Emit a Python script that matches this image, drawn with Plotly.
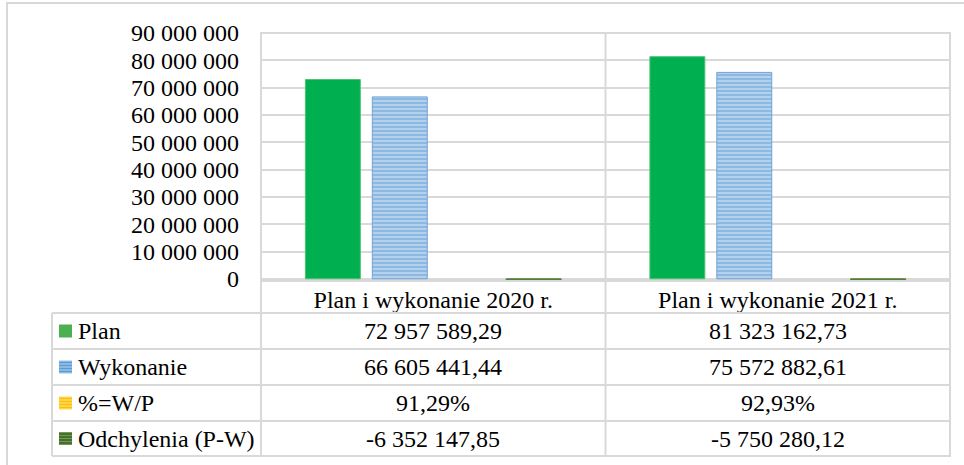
import plotly.graph_objects as go

# ---------------- data ----------------
categories = ["Plan i wykonanie 2020 r.", "Plan i wykonanie 2021 r."]
series_names = ["Plan", "Wykonanie", "%=W/P", "Odchylenia (P-W)"]
plan = [72957589.29, 81323162.73]
wykonanie = [66605441.44, 75572882.61]
procent = [0.9129, 0.9293]
odchylenia = [-6352147.85, -5750280.12]
y_ticks = [0, 10000000, 20000000, 30000000, 40000000, 50000000,
           60000000, 70000000, 80000000, 90000000]

# ---------------- helpers ----------------
W, H = 964, 465
FONT = "Liberation Serif, Times New Roman, serif"
FS = 24
GRID = "#D9D9D9"


def px(x):
    return x / W


def py(y):
    return 1 - y / H


def fmt_num(v):
    s = f"{abs(v):,.2f}".replace(",", " ").replace(".", ",")
    return ("-" if v < 0 else "") + s


def fmt_pct(v):
    return f"{v * 100:.2f}".replace(".", ",") + "%"


styles = [
    dict(color="#00B050", line=dict(color="#4CC36F", width=1)),
    dict(color="#9DC3E6", line=dict(color="#6FA3DA", width=1),
         pattern=dict(shape="-", fgcolor="#5B9BD5", bgcolor="#BDD7EE", size=4, solidity=0.6)),
    dict(color="#FFC000", line=dict(width=0),
         pattern=dict(shape="-", fgcolor="#FFC000", bgcolor="#FFE699", size=4, solidity=0.5)),
    dict(color="#548235", line=dict(color="#548235", width=1),
         pattern=dict(shape="-", fgcolor="#3A5F24", bgcolor="#6F9A52", size=4, solidity=0.5)),
]
key_colors = [("#4CAF50", None), ("#9DC3E6", "#5B9BD5"),
              ("#FFD966", "#FFC000"), ("#6F9A52", "#3A5F24")]

values = [plan, wykonanie, procent, odchylenia]
formatters = [fmt_num, fmt_num, fmt_pct, fmt_num]

fig = go.Figure()
for name, vals, st in zip(series_names, values, styles):
    fig.add_trace(go.Bar(x=categories, y=vals, name=name, marker=st,
                         showlegend=False, hoverinfo="skip"))

# ---------------- table geometry ----------------
x_left_tab, x_plot_l, x_plot_r = 52, 260, 951
y_top, y_axis = 33, 281
row_edges = [313, 349, 385, 421, 456]
row_centers = [(a + b) / 2 for a, b in zip(row_edges[:-1], row_edges[1:])]

shapes = []
line = dict(color=GRID, width=2)
# outer chart border (right/bottom lie outside the picture)
shapes.append(dict(type="rect", xref="paper", yref="paper",
                   x0=px(7), x1=px(1000), y0=py(3), y1=py(520),
                   line=dict(color=GRID, width=2), layer="below"))
# top of plot area
shapes.append(dict(type="line", xref="paper", yref="paper",
                   x0=px(x_plot_l), x1=px(x_plot_r), y0=py(y_top), y1=py(y_top), line=line))
# axis / header top
shapes.append(dict(type="line", xref="paper", yref="paper",
                   x0=px(x_plot_l), x1=px(x_plot_r), y0=py(y_axis), y1=py(y_axis), line=line))
# row lines
for ye in row_edges:
    shapes.append(dict(type="line", xref="paper", yref="paper",
                       x0=px(x_left_tab), x1=px(x_plot_r), y0=py(ye), y1=py(ye), line=line))
# vertical lines through plot and table at category boundaries
for xb in [-0.5, 0.5, 1.5]:
    shapes.append(dict(type="line", xref="x", yref="paper",
                       x0=xb, x1=xb, y0=py(y_top), y1=py(row_edges[-1]), line=line))
# left edge of table
shapes.append(dict(type="line", xref="paper", yref="paper",
                   x0=px(x_left_tab), x1=px(x_left_tab), y0=py(row_edges[0]),
                   y1=py(row_edges[-1]), line=line))

annotations = []
for i, (name, vals, f) in enumerate(zip(series_names, values, formatters)):
    yc = row_centers[i]
    # legend key
    bg, fg = key_colors[i]
    k0, k1 = 59, 72
    shapes.append(dict(type="rect", xref="paper", yref="paper",
                       x0=px(k0), x1=px(k1), y0=py(yc - 6.5), y1=py(yc + 6.5),
                       fillcolor=bg, line=dict(width=0)))
    if fg:
        for off in [-4.5, -1.5, 1.5, 4.5]:
            shapes.append(dict(type="line", xref="paper", yref="paper",
                               x0=px(k0), x1=px(k1), y0=py(yc + off), y1=py(yc + off),
                               line=dict(color=fg, width=1.5)))
    annotations.append(dict(xref="paper", yref="paper", x=px(76), y=py(yc),
                            xanchor="left", yanchor="middle", text=name, showarrow=False,
                            font=dict(family=FONT, size=FS, color="black")))
    for c, v in zip(categories, vals):
        annotations.append(dict(xref="x", yref="paper", x=c, y=py(yc),
                                xanchor="center", yanchor="middle", text=f(v),
                                showarrow=False,
                                font=dict(family=FONT, size=FS, color="black")))

fig.update_layout(
    width=W, height=H, autosize=False,
    margin=dict(l=0, r=0, t=0, b=0, pad=0, autoexpand=False),
    paper_bgcolor="white", plot_bgcolor="white",
    separators=", ",
    barmode="group", bargap=0.223, bargroupgap=0.179,
    font=dict(family=FONT, size=FS, color="black"),
    xaxis=dict(domain=[px(x_plot_l), px(x_plot_r)], showgrid=False, zeroline=False,
               showline=False, ticks="", tickfont=dict(family=FONT, size=FS, color="black"),
               ticklabelstandoff=2, fixedrange=True, automargin=False),
    yaxis=dict(domain=[py(y_axis), py(y_top)], range=[-800000, 90000000],
               tickvals=y_ticks, tickformat=",.0f", showgrid=True, gridcolor=GRID,
               gridwidth=1.5, zeroline=False, showline=False, ticks="",
               tickfont=dict(family=FONT, size=FS, color="black"),
               ticklabelstandoff=20, fixedrange=True, automargin=False),
    shapes=shapes, annotations=annotations,
)

fig.write_html("out.html")
